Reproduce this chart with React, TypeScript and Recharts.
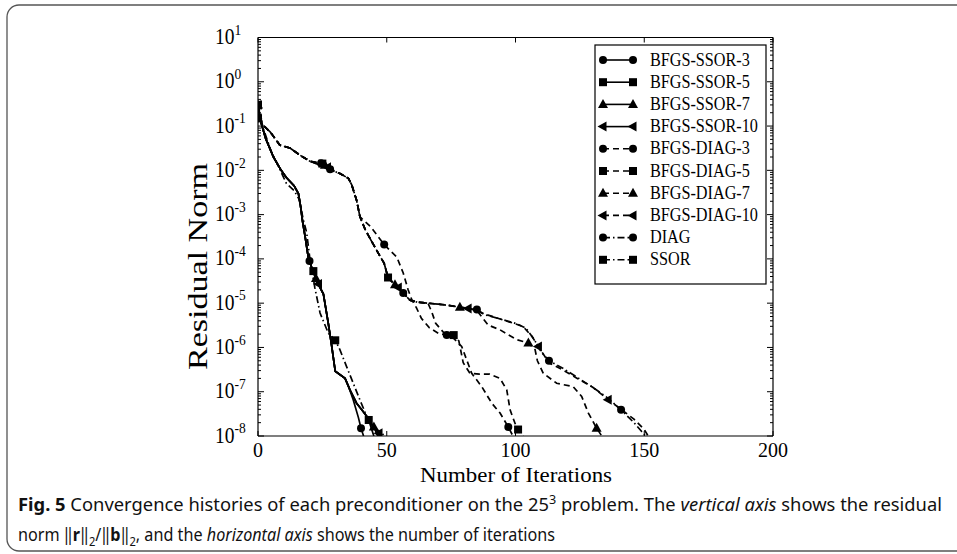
import React from 'react';
import { LineChart, Line, XAxis, YAxis } from 'recharts';

type Pt = [number, number];

// axis ticks
const xTicks = [0, 50, 100, 150, 200];
const decadeExponents = [1, 0, -1, -2, -3, -4, -5, -6, -7, -8];
const minorMultipliers = [2, 3, 4, 5, 6, 7, 8, 9];

// [iteration, residual norm]
const bfgsSsor3: Pt[] = [
  [0, 3.0e-1], [1, 1.3e-1], [3, 5.2e-2], [6, 2.0e-2], [9, 1.0e-2], [11, 6.9e-3], [14, 4.5e-3],
  [15.7, 3.0e-3], [16.5, 1.6e-3], [17.3, 7.0e-4], [18.3, 3.2e-4], [19.5, 1.1e-4], [20, 9.0e-5],
  [21, 6.0e-5], [23, 3.0e-5], [25.4, 1.6e-5], [27.3, 3.5e-6], [28.6, 1.1e-6], [30, 2.9e-7],
  [33.8, 2.0e-7], [35, 1.4e-7], [37, 6.5e-8], [39, 2.6e-8], [40, 1.5e-8], [41, 1.0e-8],
];
const bfgsSsor5: Pt[] = [
  [0, 3.0e-1], [1, 1.3e-1], [3, 5.2e-2], [6, 2.0e-2], [9, 1.0e-2], [11, 6.9e-3], [14, 4.5e-3],
  [15.7, 3.0e-3], [16.5, 1.6e-3], [17.3, 7.0e-4], [18.3, 3.2e-4], [19.5, 1.1e-4], [21, 6.0e-5],
  [21.5, 5.3e-5], [23, 3.0e-5], [25.4, 1.6e-5], [27.3, 3.5e-6], [28.6, 1.1e-6], [30, 2.9e-7],
  [33.8, 2.0e-7], [35.7, 1.1e-7], [38.3, 5.5e-8], [40.3, 3.9e-8], [42.2, 2.8e-8], [43, 2.3e-8],
  [44, 1.5e-8], [45, 1.0e-8],
];
const bfgsSsor7: Pt[] = [
  [0, 3.0e-1], [1, 1.3e-1], [3, 5.2e-2], [6, 2.0e-2], [9, 1.0e-2], [11, 6.9e-3], [14, 4.5e-3],
  [15.7, 3.0e-3], [16.5, 1.6e-3], [17.3, 7.0e-4], [18.3, 3.2e-4], [19.5, 1.1e-4], [21, 6.0e-5],
  [22.5, 3.6e-5], [23, 3.0e-5], [25.4, 1.6e-5], [27.3, 3.5e-6], [28.6, 1.1e-6], [30, 2.9e-7],
  [33.8, 2.0e-7], [35.7, 1.1e-7], [38.3, 5.5e-8], [40.3, 3.9e-8], [42.2, 2.8e-8], [43.5, 2.0e-8],
  [45, 1.6e-8], [46.5, 1.0e-8],
];
const bfgsSsor10: Pt[] = [
  [0, 3.0e-1], [1, 1.3e-1], [3, 5.2e-2], [6, 2.0e-2], [9, 1.0e-2], [11, 6.9e-3], [14, 4.5e-3],
  [15.7, 3.0e-3], [16.5, 1.6e-3], [17.3, 7.0e-4], [18.3, 3.2e-4], [19.5, 1.1e-4], [21, 6.0e-5],
  [23, 3.0e-5], [23.5, 2.7e-5], [25.4, 1.6e-5], [27.3, 3.5e-6], [28.6, 1.1e-6], [30, 2.9e-7],
  [33.8, 2.0e-7], [35.7, 1.1e-7], [38.3, 5.5e-8], [40.3, 3.9e-8], [42.2, 2.8e-8], [43.5, 2.0e-8],
  [45.4, 1.45e-8], [47, 1.15e-8], [48, 1.0e-8],
];
const bfgsDiag3: Pt[] = [
  [0, 1.5e-1], [2, 1.05e-1], [4.7, 7.4e-2], [8.5, 3.7e-2], [12.4, 3.2e-2], [16.3, 2.2e-2],
  [20.2, 1.6e-2], [24.5, 1.45e-2], [28.6, 1.0e-2], [31.8, 8.5e-3], [35.1, 6.6e-3], [36.4, 4.7e-3],
  [38.3, 2.1e-3], [39.6, 8.9e-4], [43.7, 5.4e-4], [46, 3.6e-4], [49, 2.1e-4], [53.9, 1.1e-4],
  [56.4, 4.8e-5], [58.3, 2.0e-5], [59.7, 1.2e-5], [61.5, 7.9e-6], [63.5, 4.5e-6], [66.5, 2.8e-6],
  [70, 2.1e-6], [73.3, 1.9e-6], [76, 1.6e-6], [79.1, 1.05e-6], [83, 2.6e-7], [86.9, 1.3e-7],
  [90.8, 5.5e-8], [94, 3.3e-8], [97.2, 1.6e-8], [99, 1.0e-8],
];
const bfgsDiag5: Pt[] = [
  [0, 1.5e-1], [2, 1.05e-1], [4.7, 7.4e-2], [8.5, 3.7e-2], [12.4, 3.2e-2], [16.3, 2.2e-2],
  [20.2, 1.6e-2], [25, 1.42e-2], [28.6, 1.0e-2], [31.8, 8.5e-3], [35.1, 6.6e-3], [36.4, 4.7e-3],
  [38.3, 2.1e-3], [39.6, 8.9e-4], [41.7, 4.5e-4], [43.8, 2.7e-4], [46.7, 1.35e-4], [49, 7.9e-5],
  [50.5, 3.8e-5], [53.2, 2.6e-5], [56.4, 1.7e-5], [59, 1.17e-5], [63, 1.05e-5], [66, 1.0e-5],
  [67.5, 6.3e-6], [69, 3.5e-6], [72, 2.2e-6], [76, 1.9e-6], [78, 1.4e-6], [79.7, 4.5e-7],
  [82.3, 2.6e-7], [86, 2.5e-7], [90, 2.5e-7], [94, 2.0e-7], [96.6, 1.1e-7], [97.9, 3.9e-8],
  [100, 1.8e-8], [101, 1.4e-8], [103, 1.0e-8],
];
const bfgsDiag7: Pt[] = [
  [0, 1.5e-1], [2, 1.05e-1], [4.7, 7.4e-2], [8.5, 3.7e-2], [12.4, 3.2e-2], [16.3, 2.2e-2],
  [20.2, 1.6e-2], [26, 1.3e-2], [28.6, 1.0e-2], [31.8, 8.5e-3], [35.1, 6.6e-3], [36.4, 4.7e-3],
  [38.3, 2.1e-3], [39.6, 8.9e-4], [41.7, 4.5e-4], [43.8, 2.7e-4], [46.7, 1.35e-4], [49, 7.9e-5],
  [50.5, 3.8e-5], [53.2, 2.6e-5], [56.4, 1.7e-5], [59, 1.17e-5], [62, 1.05e-5], [66, 1.0e-5],
  [70, 9.5e-6], [74, 8.9e-6], [78.4, 8.1e-6], [82, 7.6e-6], [85, 6.8e-6], [86.8, 5.0e-6],
  [89.4, 3.2e-6], [94, 2.5e-6], [100.5, 1.5e-6], [105, 1.26e-6], [107.6, 8.9e-7], [108.5, 5.0e-7],
  [110.8, 2.6e-7], [116, 1.55e-7], [122.4, 1.3e-7], [125.7, 7.8e-8], [128.3, 3.3e-8],
  [131.5, 1.5e-8], [133.5, 1.0e-8],
];
const bfgsDiag10: Pt[] = [
  [0, 1.5e-1], [2, 1.05e-1], [4.7, 7.4e-2], [8.5, 3.7e-2], [12.4, 3.2e-2], [16.3, 2.2e-2],
  [20.2, 1.6e-2], [27, 1.18e-2], [28.6, 1.0e-2], [31.8, 8.5e-3], [35.1, 6.6e-3], [36.4, 4.7e-3],
  [38.3, 2.1e-3], [39.6, 8.9e-4], [41.7, 4.5e-4], [43.8, 2.7e-4], [46.7, 1.35e-4], [49, 7.9e-5],
  [50.5, 3.8e-5], [53.2, 2.6e-5], [54.5, 2.25e-5], [56.4, 1.7e-5], [59, 1.17e-5], [62, 1.05e-5],
  [66, 1.0e-5], [70, 9.5e-6], [74, 8.9e-6], [78, 8.2e-6], [81.6, 7.6e-6], [85, 7.0e-6],
  [86.8, 6.0e-6], [94, 4.4e-6], [100, 3.4e-6], [103, 2.95e-6], [106.3, 1.8e-6], [108.9, 1.05e-6],
  [113, 4.5e-7], [118, 3.2e-7], [124, 2.0e-7], [130, 1.26e-7], [136, 6.6e-8], [141, 4.0e-8],
  [146, 2.4e-8], [150, 1.4e-8], [151.5, 1.0e-8],
];
const diag: Pt[] = [
  [0, 1.5e-1], [2, 1.05e-1], [4.7, 7.4e-2], [8.5, 3.7e-2], [12.4, 3.2e-2], [16.3, 2.2e-2],
  [20.2, 1.6e-2], [28, 1.06e-2], [28.6, 1.0e-2], [31.8, 8.5e-3], [35.1, 6.6e-3], [36.4, 4.7e-3],
  [38.3, 2.1e-3], [39.6, 8.9e-4], [41.7, 4.5e-4], [43.8, 2.7e-4], [46.7, 1.35e-4], [49, 7.9e-5],
  [50.5, 3.8e-5], [53.2, 2.6e-5], [56.4, 1.7e-5], [59, 1.17e-5], [62, 1.05e-5], [66, 1.0e-5],
  [70, 9.5e-6], [74, 8.9e-6], [78, 8.2e-6], [81.6, 7.6e-6], [85, 7.2e-6], [88, 5.5e-6],
  [94, 4.4e-6], [100, 3.5e-6], [104, 2.75e-6], [107, 1.6e-6], [110, 7.9e-7], [113, 5.0e-7],
  [118, 3.5e-7], [124, 2.1e-7], [130, 1.26e-7], [136, 7.1e-8], [141, 3.9e-8], [146, 2.0e-8],
  [149, 1.26e-8], [150.5, 1.0e-8],
];
const ssor: Pt[] = [
  [0, 3.0e-1], [2, 9.0e-2], [5, 2.8e-2], [8, 1.2e-2], [11, 5.1e-3], [14, 3.5e-3], [16, 2.2e-3],
  [17.6, 7.6e-4], [18.9, 3.9e-4], [20.2, 9.5e-5], [22.1, 2.2e-5], [24.1, 6.0e-6], [27.3, 2.1e-6],
  [30, 1.45e-6], [31.8, 8.9e-7], [34.4, 3.7e-7], [36.9, 1.6e-7], [39.6, 6.5e-8], [42.2, 2.8e-8],
  [46.1, 1.4e-8], [49.3, 1.0e-8],
];

// iterations where a marker symbol is drawn
const bfgsSsor3Marks = [0, 20, 40];
const bfgsSsor5Marks = [0, 21.5, 43];
const bfgsSsor7Marks = [0, 22.5, 45];
const bfgsSsor10Marks = [0, 23.5, 47];
const bfgsDiag3Marks = [0, 24.5, 49, 73.3, 97.2];
const bfgsDiag5Marks = [0, 25, 50.5, 76, 101];
const bfgsDiag7Marks = [0, 26, 53.2, 78.4, 105, 131.5];
const bfgsDiag10Marks = [0, 27, 54.5, 81.6, 108.9, 136];
const diagMarks = [0, 28, 56.4, 85, 113, 141];
const ssorMarks = [0, 30];

type Shape = 'circle' | 'square' | 'triangle' | 'left';
type Dash = 'solid' | 'dashed' | 'dashdot';

const series: { name: string; data: Pt[]; marks: number[]; shape: Shape; dash: Dash }[] = [
  { name: 'BFGS-SSOR-3', data: bfgsSsor3, marks: bfgsSsor3Marks, shape: 'circle', dash: 'solid' },
  { name: 'BFGS-SSOR-5', data: bfgsSsor5, marks: bfgsSsor5Marks, shape: 'square', dash: 'solid' },
  { name: 'BFGS-SSOR-7', data: bfgsSsor7, marks: bfgsSsor7Marks, shape: 'triangle', dash: 'solid' },
  { name: 'BFGS-SSOR-10', data: bfgsSsor10, marks: bfgsSsor10Marks, shape: 'left', dash: 'solid' },
  { name: 'BFGS-DIAG-3', data: bfgsDiag3, marks: bfgsDiag3Marks, shape: 'circle', dash: 'dashed' },
  { name: 'BFGS-DIAG-5', data: bfgsDiag5, marks: bfgsDiag5Marks, shape: 'square', dash: 'dashed' },
  { name: 'BFGS-DIAG-7', data: bfgsDiag7, marks: bfgsDiag7Marks, shape: 'triangle', dash: 'dashed' },
  { name: 'BFGS-DIAG-10', data: bfgsDiag10, marks: bfgsDiag10Marks, shape: 'left', dash: 'dashed' },
  { name: 'DIAG', data: diag, marks: diagMarks, shape: 'circle', dash: 'dashdot' },
  { name: 'SSOR', data: ssor, marks: ssorMarks, shape: 'square', dash: 'dashdot' },
];

const DASH: Record<Dash, string | undefined> = {
  solid: undefined,
  dashed: '6 4',
  dashdot: '7 3 1.5 3',
};

const SERIF = '"Liberation Serif", "Times New Roman", serif';
const SANS = '"Noto Sans", "Liberation Sans", sans-serif';

// plot box in page pixels
const PLOT = { left: 258, top: 37.5, right: 773, bottom: 436 };

function Marker({ shape, x, y }: { shape: Shape; x: number; y: number }) {
  const s = 4;
  if (shape === 'circle') return <circle cx={x} cy={y} r={s} fill="#000" />;
  if (shape === 'square') return <rect x={x - s} y={y - s} width={2 * s} height={2 * s} fill="#000" />;
  if (shape === 'triangle')
    return <polygon points={`${x},${y - 5.5} ${x + 5},${y + 3.5} ${x - 5},${y + 3.5}`} fill="#000" />;
  return <polygon points={`${x - 5.5},${y} ${x + 3.5},${y - 5} ${x + 3.5},${y + 5}`} fill="#000" />;
}

const makeDot = (shape: Shape, marks: number[]) => (props: any) => {
  const { cx, cy, payload, index } = props;
  const key = `dot-${index}`;
  if (cx == null || cy == null || !marks.some((m) => Math.abs(m - payload.x) < 1e-6)) {
    return <g key={key} />;
  }
  return (
    <g key={key}>
      <Marker shape={shape} x={cx} y={cy} />
    </g>
  );
};

const yTicks: number[] = [];
decadeExponents.forEach((e) => {
  yTicks.push(Math.pow(10, e));
  if (e > -8) minorMultipliers.forEach((m) => yTicks.push(m * Math.pow(10, e - 1)));
});

const isDecade = (v: number) => Math.abs(Math.log10(v) - Math.round(Math.log10(v))) < 1e-9;

const XTickBottom = (props: any) => {
  const { x, y, payload } = props;
  return (
    <g>
      <line x1={x} x2={x} y1={y} y2={y - 5} stroke="#000" />
      <text x={x} y={y + 21} textAnchor="middle" fontFamily={SERIF} fontSize={20} fill="#000">
        {payload.value}
      </text>
    </g>
  );
};

const XTickTop = (props: any) => {
  const { x, y } = props;
  return <line x1={x} x2={x} y1={y} y2={y + 5} stroke="#000" />;
};

const YTickLeft = (props: any) => {
  const { x, y, payload } = props;
  const major = isDecade(payload.value);
  const exp = Math.round(Math.log10(payload.value));
  return (
    <g>
      <line x1={x} x2={x + (major ? 6 : 3)} y1={y} y2={y} stroke="#000" />
      {major && (
        <g transform={`translate(${x - 43}, ${y + 6.5}) scale(1, 1.15)`}>
          <text x={0} y={0} fontFamily={SERIF} fontSize={19.5} fill="#000">
            10
            <tspan dy={-8} fontSize={13.5}>
              {exp}
            </tspan>
          </text>
        </g>
      )}
    </g>
  );
};

const YTickRight = (props: any) => {
  const { x, y, payload } = props;
  const major = isDecade(payload.value);
  return <line x1={x} x2={x - (major ? 6 : 3)} y1={y} y2={y} stroke="#000" />;
};

function LegendBox() {
  const left = 595;
  const top = 45;
  const rowStep = 22.2;
  return (
    <g>
      <rect x={left} y={top} width={171} height={239} fill="#fff" stroke="#000" strokeWidth={1.2} />
      {series.map((s, i) => {
        const y = top + 15 + i * rowStep;
        return (
          <g key={s.name}>
            <line x1={left + 8} x2={left + 38} y1={y} y2={y} stroke="#000" strokeWidth={1.6} strokeDasharray={DASH[s.dash]} />
            <Marker shape={s.shape} x={left + 8} y={y} />
            <Marker shape={s.shape} x={left + 38} y={y} />
            <g transform={`translate(${left + 55}, ${y + 5.5}) scale(1, 1.2)`}>
              <text x={0} y={0} fontFamily={SERIF} fontSize={16.2} fill="#000">
                {s.name}
              </text>
            </g>
          </g>
        );
      })}
    </g>
  );
}

export default function App() {
  const chartH = 480;
  return (
    <div style={{ position: 'absolute', left: 0, top: 0, width: 957, height: 554, background: '#fff' }}>
      <div style={{ position: 'absolute', left: 0, top: 0 }}>
        <LineChart
          width={957}
          height={chartH}
          margin={{ top: PLOT.top - 10, right: 957 - PLOT.right - 10, bottom: chartH - PLOT.bottom - 30, left: PLOT.left - 60 }}
        >
          <XAxis
            xAxisId="bottom"
            dataKey="x"
            type="number"
            domain={[0, 200]}
            ticks={xTicks}
            interval={0}
            allowDataOverflow
            height={30}
            tickSize={0}
            tickMargin={0}
            tickLine={false}
            axisLine={{ stroke: '#000', strokeWidth: 1.2 }}
            tick={<XTickBottom />}
          />
          <XAxis
            xAxisId="top"
            orientation="top"
            dataKey="x"
            type="number"
            domain={[0, 200]}
            ticks={xTicks}
            interval={0}
            allowDataOverflow
            height={10}
            tickSize={0}
            tickMargin={0}
            tickLine={false}
            axisLine={{ stroke: '#000', strokeWidth: 1.2 }}
            tick={<XTickTop />}
          />
          <YAxis
            yAxisId="left"
            type="number"
            scale="log"
            domain={[1e-8, 10]}
            ticks={yTicks}
            interval={0}
            allowDataOverflow
            width={60}
            tickSize={0}
            tickMargin={0}
            tickLine={false}
            axisLine={{ stroke: '#000', strokeWidth: 1.2 }}
            tick={<YTickLeft />}
          />
          <YAxis
            yAxisId="right"
            orientation="right"
            type="number"
            scale="log"
            domain={[1e-8, 10]}
            ticks={yTicks}
            interval={0}
            allowDataOverflow
            width={10}
            tickSize={0}
            tickMargin={0}
            tickLine={false}
            axisLine={{ stroke: '#000', strokeWidth: 1.2 }}
            tick={<YTickRight />}
          />
          {series.map((s) => (
            <Line
              key={s.name}
              xAxisId="bottom"
              yAxisId="left"
              data={s.data.map(([x, y]) => ({ x, y }))}
              dataKey="y"
              name={s.name}
              type="linear"
              stroke="#000"
              strokeWidth={1.7}
              strokeDasharray={DASH[s.dash]}
              dot={makeDot(s.shape, s.marks)}
              activeDot={false}
              isAnimationActive={false}
            />
          ))}
        </LineChart>
      </div>
      <svg width={957} height={554} style={{ position: 'absolute', left: 0, top: 0, pointerEvents: 'none' }}>
        <rect x={7} y={5} width={980} height={546} rx={12} fill="none" stroke="#555" strokeWidth={1.3} />
        <LegendBox />
        <text
          transform="translate(207, 266.5) rotate(-90)"
          textAnchor="middle"
          fontFamily={SERIF}
          fontSize={27}
          textLength={207}
          lengthAdjust="spacingAndGlyphs"
          fill="#000"
        >
          Residual Norm
        </text>
        <text
          x={516}
          y={482}
          textAnchor="middle"
          fontFamily={SERIF}
          fontSize={22}
          textLength={192}
          lengthAdjust="spacingAndGlyphs"
          fill="#000"
        >
          Number of Iterations
        </text>
        <g transform="translate(18, 511) scale(1, 1.15)">
          <text x={0} y={0} fontFamily={SANS} fontSize={16} fill="#111" textLength={924} lengthAdjust="spacingAndGlyphs">
            <tspan fontWeight="bold">Fig. 5</tspan>
            {'  Convergence histories of each preconditioner on the 25'}
            <tspan dy={-6} fontSize={11}>3</tspan>
            <tspan dy={6}>{' problem. The '}</tspan>
            <tspan fontStyle="italic">vertical axis</tspan>
            {' shows the residual'}
          </text>
        </g>
        <g transform="translate(18, 541) scale(1, 1.15)">
          <text x={0} y={0} fontFamily={SANS} fontSize={16} fill="#111" textLength={537} lengthAdjust="spacingAndGlyphs">
            {'norm \u2016'}
            <tspan fontWeight="bold">r</tspan>
            {'\u2016'}
            <tspan dy={4} fontSize={11}>2</tspan>
            <tspan dy={-4}>{'/\u2016'}</tspan>
            <tspan fontWeight="bold">b</tspan>
            {'\u2016'}
            <tspan dy={4} fontSize={11}>2</tspan>
            <tspan dy={-4}>{', and the '}</tspan>
            <tspan fontStyle="italic">horizontal axis</tspan>
            {' shows the number of iterations'}
          </text>
        </g>
      </svg>
    </div>
  );
}
